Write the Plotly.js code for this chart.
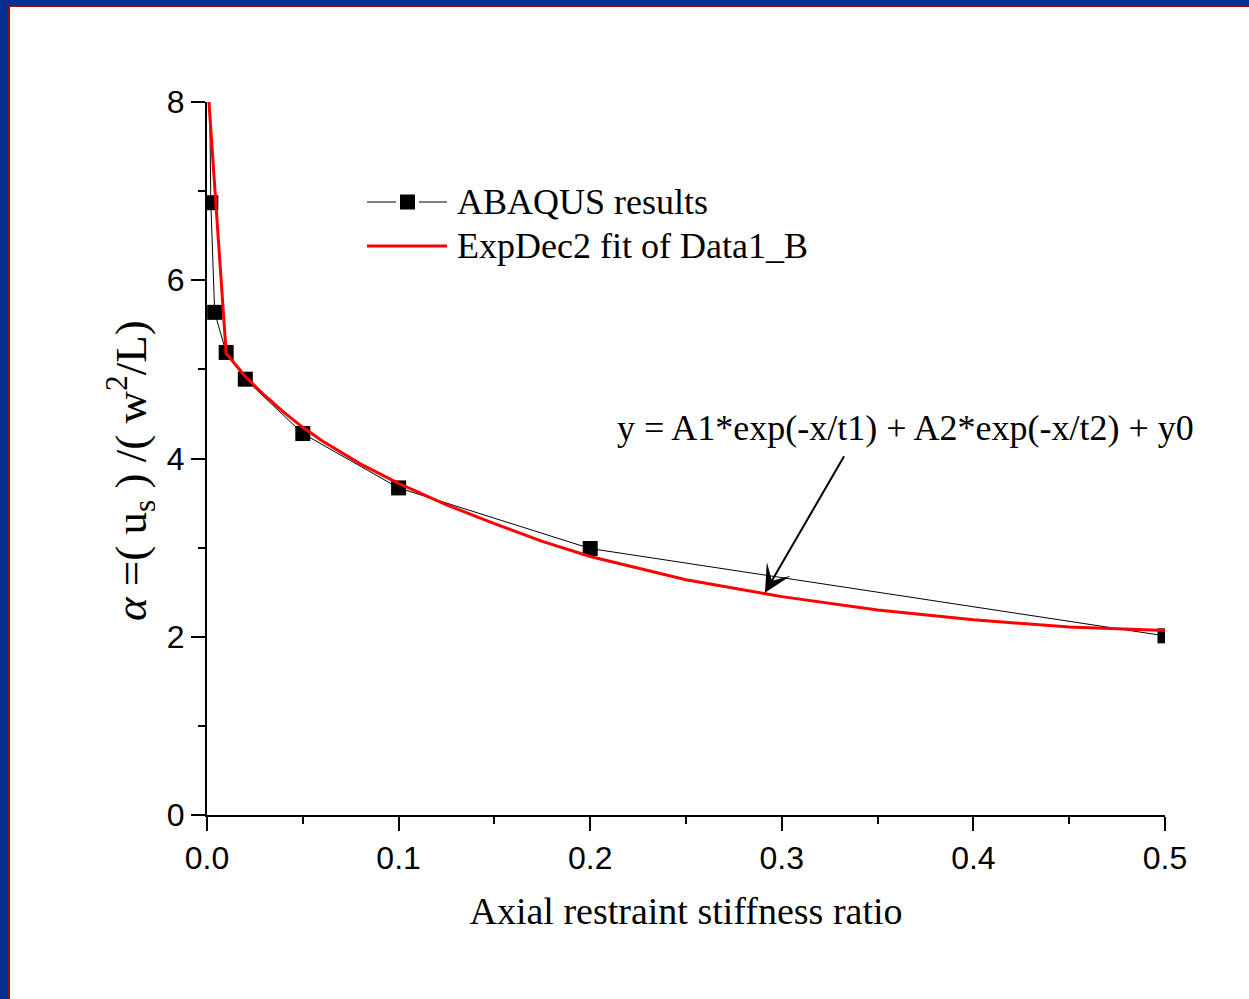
<!DOCTYPE html>
<html>
<head>
<meta charset="utf-8">
<script src="https://cdn.plot.ly/plotly-3.0.1.min.js"></script>
<style>
  html, body { margin: 0; padding: 0; background: #ffffff; overflow: hidden; }
  #wrap { position: relative; width: 1249px; height: 999px; }
  #chart { position: absolute; left: 0; top: 0; width: 1249px; height: 999px; }
  .bar { position: absolute; pointer-events: none; }
</style>
</head>
<body>
<div id="wrap">
  <div id="chart"></div>
  <div class="bar" style="left:0;top:0;width:1249px;height:5px;background:#003092;"></div>
  <div class="bar" style="left:0;top:0;width:8px;height:999px;background:#003092;"></div>
  <div class="bar" style="left:8px;top:5px;width:1241px;height:2px;background:#9a0a0a;"></div>
  <div class="bar" style="left:8px;top:5px;width:2px;height:994px;background:#9a0a0a;"></div>
</div>
<script>
// ABAQUS results (data points; the first one lies above the plotted range)
const abaqusX = [0.001, 0.002, 0.004, 0.01, 0.02, 0.05, 0.1, 0.2, 0.5];
const abaqusY = [8.7, 6.87, 5.64, 5.19, 4.89, 4.28, 3.67, 2.99, 2.01];

// ExpDec2 fit curve
const fitX = [0.001, 0.01, 0.02, 0.03, 0.04, 0.05, 0.06, 0.08, 0.1, 0.125, 0.15, 0.175, 0.2, 0.25, 0.3, 0.35, 0.4, 0.45, 0.5];
const fitY = [8.0, 5.18, 4.92, 4.71, 4.52, 4.35, 4.20, 3.94, 3.72, 3.48, 3.27, 3.07, 2.90, 2.64, 2.45, 2.30, 2.19, 2.11, 2.07];

const xTickVals = [0, 0.1, 0.2, 0.3, 0.4, 0.5];
const xTickText = ['0.0', '0.1', '0.2', '0.3', '0.4', '0.5'];
const yTickVals = [0, 2, 4, 6, 8];
const yTickText = ['0', '2', '4', '6', '8'];

const legendNames = ['ABAQUS results', 'ExpDec2 fit of Data1_B'];
const equationText = 'y = A1*exp(-x/t1) + A2*exp(-x/t2) + y0';
const xTitle = 'Axial restraint stiffness ratio';
const yTitle = '<i>α</i> =( u<sub>s</sub> ) /( w<sup>2</sup>/L)';

const serif = '"Liberation Serif", "Times New Roman", Times, serif';
const sans = 'Arial, "Liberation Sans", Helvetica, sans-serif';

const traces = [
  {
    x: abaqusX, y: abaqusY, name: legendNames[0],
    type: 'scatter', mode: 'lines+markers',
    line: {color: '#000000', width: 1},
    marker: {symbol: 'square', size: 15, color: '#000000'},
    showlegend: false
  },
  {
    x: fitX, y: fitY, name: legendNames[1],
    type: 'scatter', mode: 'lines',
    line: {color: '#ff0000', width: 3},
    showlegend: false
  }
];

// plot area in pixels: x 207..1165, y 102..815
const L = 207, R = 1165, T = 102, B = 815;
const px = v => (v - L) / (R - L);
const py = v => (B - v) / (B - T);

const shapes = [
  // legend entry 1: line - marker - line
  {type: 'line', xref: 'paper', yref: 'paper', x0: px(367), x1: px(396), y0: py(202), y1: py(202), line: {color: '#000', width: 1}},
  {type: 'line', xref: 'paper', yref: 'paper', x0: px(419), x1: px(447), y0: py(202), y1: py(202), line: {color: '#000', width: 1}},
  {type: 'rect', xref: 'paper', yref: 'paper', x0: px(400), x1: px(415), y0: py(194.5), y1: py(209.5), fillcolor: '#000', line: {width: 0}},
  // legend entry 2: red line
  {type: 'line', xref: 'paper', yref: 'paper', x0: px(367), x1: px(447), y0: py(246), y1: py(246), line: {color: '#ff0000', width: 3}}
];

const annotations = [
  {xref: 'paper', yref: 'paper', x: px(455), y: py(202), xanchor: 'left', yanchor: 'middle',
   text: legendNames[0], showarrow: false, font: {family: serif, size: 36, color: '#000'}},
  {xref: 'paper', yref: 'paper', x: px(455), y: py(246), xanchor: 'left', yanchor: 'middle',
   text: legendNames[1], showarrow: false, font: {family: serif, size: 36, color: '#000'}},
  {xref: 'paper', yref: 'paper', x: px(905), y: py(428), xanchor: 'center', yanchor: 'middle',
   text: equationText, showarrow: false, font: {family: serif, size: 36, color: '#000'}},
  // y-axis title
  {xref: 'paper', yref: 'paper', x: px(130), y: py(471), xanchor: 'center', yanchor: 'middle',
   text: yTitle, textangle: -90, showarrow: false, font: {family: serif, size: 45, color: '#000'}},
  // arrow pointing at the fit curve
  {xref: 'x', yref: 'y', x: 0.2912, y: 2.494, ax: 80, ay: -138, text: '', showarrow: true,
   arrowhead: 3, arrowsize: 2.3, arrowwidth: 2, arrowcolor: '#000'}
];

const layout = {
  width: 1249, height: 999,
  paper_bgcolor: '#ffffff', plot_bgcolor: '#ffffff',
  margin: {l: L, r: 1249 - R, t: T, b: 999 - B, pad: 0},
  showlegend: false,
  xaxis: {
    range: [0, 0.5], autorange: false, fixedrange: true,
    showgrid: false, zeroline: false,
    showline: true, linecolor: '#000', linewidth: 2,
    ticks: 'outside', ticklen: 14, tickwidth: 2, tickcolor: '#000',
    tickvals: xTickVals, ticktext: xTickText,
    tickfont: {family: sans, size: 32, color: '#000'},
    minor: {dtick: 0.05, tick0: 0, ticks: 'outside', ticklen: 7, tickwidth: 2, tickcolor: '#000', showgrid: false},
    title: {text: xTitle, font: {family: serif, size: 38, color: '#000'}, standoff: 22}
  },
  yaxis: {
    range: [0, 8], autorange: false, fixedrange: true,
    showgrid: false, zeroline: false,
    showline: true, linecolor: '#000', linewidth: 2,
    ticks: 'outside', ticklen: 14, tickwidth: 2, tickcolor: '#000',
    tickvals: yTickVals, ticktext: yTickText,
    tickfont: {family: sans, size: 32, color: '#000'},
    minor: {dtick: 1, tick0: 0, ticks: 'outside', ticklen: 7, tickwidth: 2, tickcolor: '#000', showgrid: false}
  },
  shapes: shapes,
  annotations: annotations
};

Plotly.newPlot('chart', traces, layout, {displayModeBar: false, staticPlot: true});
</script>
</body>
</html>
